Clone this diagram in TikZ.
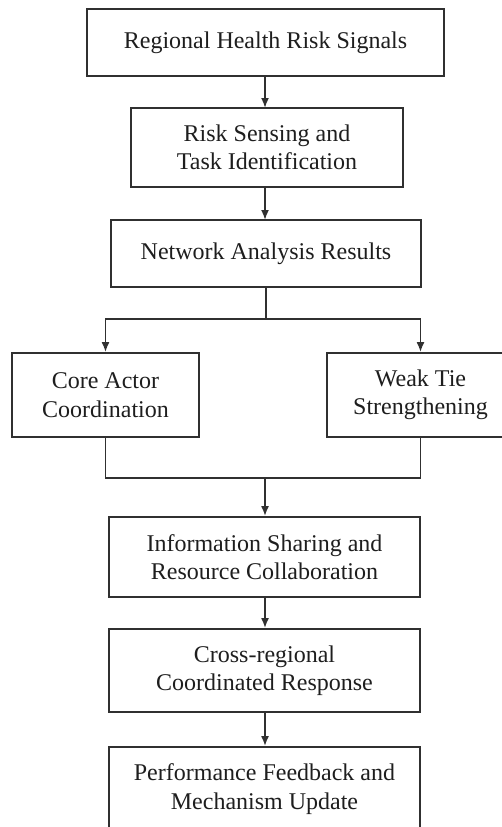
\documentclass[tikz,border=0pt]{standalone}
\usepackage{fontspec}
\setmainfont{Liberation Serif}
\usetikzlibrary{arrows.meta}
\definecolor{linegray}{HTML}{303030}
\definecolor{textgray}{HTML}{1E1E1E}
\begin{document}
\begin{tikzpicture}[x=1pt,y=-1pt,
  box/.style={draw=linegray, line width=1.8pt, rectangle, inner sep=0pt, align=center,
    text=textgray, font=\fontsize{24}{28.5}\selectfont},
  conn/.style={draw=linegray, line width=1.8pt},
  arr/.style={conn, -{Latex[length=10pt,width=8pt]}}]
\useasboundingbox (0,0) rectangle (502,827);
\clip (0,0) rectangle (502,827);
\fill[white] (0,0) rectangle (502,827);
\node[box, minimum width=357pt, minimum height=67pt] (b1) at (265.5,42.5) {Regional Health Risk Signals};
\node[box, minimum width=272pt, minimum height=79pt] (b2) at (267,147.5) {Risk Sensing and\\Task Identification};
\node[box, minimum width=310pt, minimum height=67pt] (b3) at (266,253.5) {Network Analysis Results};
\node[box, minimum width=187pt, minimum height=84pt] (bl) at (105.5,395) {Core Actor\\Coordination};
\node[box, minimum width=187pt, minimum height=84pt] (br) at (420.5,395) {Weak Tie\\Strengthening};
\node[box, minimum width=311pt, minimum height=80pt] (b4) at (264.5,557) {Information Sharing and\\Resource Collaboration};
\node[box, minimum width=311pt, minimum height=83pt] (b5) at (264.5,670.5) {Cross-regional\\Coordinated Response};
\node[box, minimum width=311pt, minimum height=84pt] (b6) at (264.5,789) {Performance Feedback and\\Mechanism Update};
\coordinate (split) at (266,319);
\coordinate (join) at (265,478);
\draw[arr] (265,76) -- (265,108);
\draw[arr] (265,187) -- (265,220);
\draw[conn] (b3.south -| split) -- (split);
\draw[arr] (split) -| (bl.north);
\draw[arr] (split) -| (br.north);
\draw[conn] (bl.south) |- (join);
\draw[conn] (br.south) |- (join);
\draw[arr] (join) -- (join |- b4.north);
\draw[arr] (b4.south -| join) -- (b5.north -| join);
\draw[arr] (b5.south -| join) -- (b6.north -| join);
\end{tikzpicture}
\end{document}
